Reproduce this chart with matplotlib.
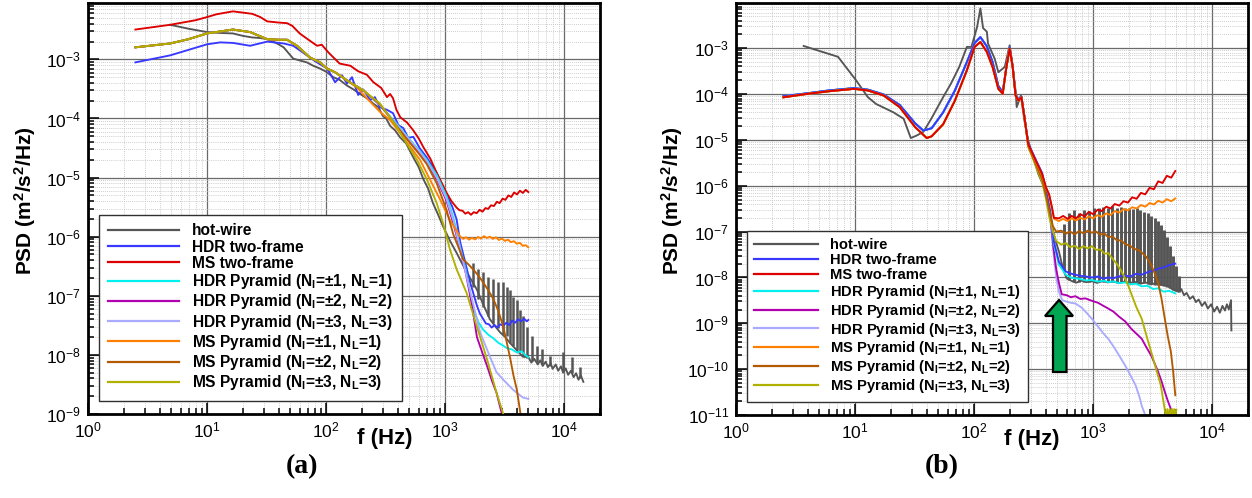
import numpy as np
import matplotlib
matplotlib.use("Agg")
import matplotlib.pyplot as plt
from matplotlib.patches import Polygon
from matplotlib.ticker import LogLocator, NullFormatter

plt.rcParams['font.family'] = ['Liberation Sans', 'DejaVu Sans']
plt.rcParams['mathtext.default'] = 'regular'

# ------------------------------------------------------------------ data (a)
A_HW_F = [4.9, 7, 10, 13, 16.5, 20, 24, 28, 32, 38, 44, 48, 53, 60, 69, 78, 89, 100, 115, 130,
          150, 170, 193, 220, 248, 275, 300, 320, 345, 380, 418, 470, 540, 600, 655, 720, 790, 870,
          960, 1100, 1250, 1380, 1520, 1700, 1850, 2100, 2380, 2650, 2900, 3200, 3500, 4000, 4500,
          5000, 5300, 5600, 6000, 6300, 6600, 7000, 7300, 7700, 8000, 8500, 8900, 9400, 9800,
          10300, 10800, 11400, 12000, 12600, 13200, 13800, 14500]
A_HW_P = [3.85e-3, 3.3e-3, 2.9e-3, 2.8e-3, 2.75e-3, 2.5e-3, 2.35e-3, 2.3e-3, 2.2e-3, 1.9e-3,
          1.6e-3, 1.3e-3, 1.03e-3, 9.6e-4, 8.9e-4, 7.8e-4, 7e-4, 6.2e-4, 5e-4, 4.5e-4,
          3.6e-4, 3.1e-4, 2.6e-4, 2.2e-4, 1.8e-4, 1.55e-4, 1.1e-4, 1.0e-4, 7.5e-5, 6.3e-5,
          4.8e-5, 3.8e-5, 2.2e-5, 1.5e-5, 9.5e-6, 6.5e-6, 3.7e-6, 2.4e-6, 1.5e-6, 8.5e-7,
          5.3e-7, 3.6e-7, 2.5e-7, 1.7e-7, 1.27e-7, 7e-8, 4e-8, 3e-8, 2.4e-8, 2e-8,
          1.6e-8, 1.2e-8, 9.3e-9,
          9.2e-9, 7.4e-9, 8.6e-9, 6.9e-9, 8.1e-9, 6.5e-9, 7.7e-9, 6.2e-9, 7.3e-9, 5.8e-9,
          6.9e-9, 5.4e-9, 6.4e-9, 5.0e-9, 5.9e-9, 4.6e-9, 5.4e-9, 4.2e-9, 4.9e-9, 3.8e-9,
          4.5e-9, 3.5e-9]
A_SPK_F = [1730, 1905, 2100, 2313, 2546, 2805, 3090, 3300, 3517, 3750, 4006, 4270, 4550, 4860,
           5355, 5890, 6460, 7620, 9860, 11600, 13600]
A_SPK_TOP = [3.6e-7, 2.8e-7, 2.5e-7, 2.1e-7, 1.9e-7, 1.7e-7, 1.7e-7, 1.4e-7, 1.27e-7, 9.7e-8,
             8.6e-8, 5.8e-8, 4.5e-8, 3e-8, 2.1e-8, 1.4e-8, 1.27e-8, 9.6e-9, 1.1e-8, 9.2e-9, 6.3e-9]
A_SPK_LO = [1.4e-7, 9e-8, 6.5e-8, 4.5e-8, 3.4e-8, 2.8e-8, 2.3e-8, 2.1e-8, 1.6e-8, 1.4e-8,
            1.2e-8, 1.1e-8, 9.5e-9, 8.8e-9, 7.8e-9, 7.5e-9, 7e-9, 6.5e-9, 5.6e-9, 5e-9, 4e-9]

A_RED_F = [2.5, 4.9, 8, 10, 12, 16.5, 24, 28, 32, 40, 47, 52, 60, 70, 84, 92, 105, 130, 160, 186,
           220, 250, 290, 325, 345, 365, 390, 420, 480, 540, 600, 655, 750, 850, 940, 1030, 1130,
           1250, 1320, 1400, 1480, 1560, 1650, 1740, 1840, 1950, 2060, 2180, 2300, 2430, 2570,
           2720, 2870, 3040, 3210, 3400, 3590, 3800, 4020, 4250, 4500, 4750, 5000]
A_RED_P = [3.2e-3, 3.85e-3, 4.6e-3, 5.2e-3, 5.8e-3, 6.5e-3, 5.9e-3, 5.2e-3, 4.4e-3, 4.2e-3,
           4.1e-3, 3.7e-3, 2.75e-3, 2.2e-3, 1.7e-3, 1.77e-3, 1.3e-3, 8.5e-4, 7.8e-4, 6.3e-4,
           5.5e-4, 4.1e-4, 3.3e-4, 2.3e-4, 2.6e-4, 2.2e-4, 1.4e-4, 1.05e-4, 8.5e-5, 6.3e-5,
           4.6e-5, 3.3e-5, 2.1e-5, 1.2e-5, 8e-6, 5.5e-6, 4e-6,
           3.1e-6, 2.8e-6, 2.75e-6, 2.45e-6, 2.6e-6, 2.35e-6, 2.6e-6, 2.5e-6, 2.85e-6, 2.65e-6,
           3.05e-6, 2.95e-6, 3.4e-6, 3.3e-6, 3.9e-6, 3.7e-6, 4.4e-6, 4.2e-6, 5e-6, 4.7e-6,
           5.6e-6, 5.2e-6, 6e-6, 5.5e-6, 6.2e-6, 5.7e-6]

A_BLUE_F = [2.5, 4.9, 10, 12.9, 16.5, 23, 32, 44, 53, 69, 81, 102, 108, 119, 136, 150, 165, 186,
            205, 235, 257, 283, 325, 365, 405, 445, 490, 540, 615, 700, 850, 1030, 1150, 1250,
            1340, 1480, 1620, 1750, 1850, 1960, 2080, 2200, 2330, 2460, 2600, 2750, 2900, 3080,
            3260, 3450, 3650, 3870, 4100, 4350, 4600, 4850, 5000]
A_BLUE_P = [8.9e-4, 1.17e-3, 1.8e-3, 1.94e-3, 1.9e-3, 1.7e-3, 2e-3, 1.86e-3, 1.7e-3, 1.17e-3,
            9.3e-4, 7e-4, 5.8e-4, 4.1e-4, 5.4e-4, 3.9e-4, 5e-4, 2.5e-4, 3.1e-4, 2.05e-4,
            2.3e-4, 1.55e-4, 1.4e-4, 1.23e-4, 7.7e-5, 6.9e-5, 4.7e-5, 4.9e-5, 3.1e-5, 2.2e-5,
            1.2e-5, 5.1e-6, 3.2e-6, 1.95e-6, 8e-7, 3.6e-7, 1.7e-7, 1e-7, 6.8e-8, 5e-8,
            4.1e-8, 3.4e-8, 3.3e-8, 2.9e-8, 3.2e-8, 2.9e-8, 3.3e-8, 3.1e-8, 3.5e-8, 3.2e-8,
            3.8e-8, 3.5e-8, 4e-8, 3.7e-8, 4.1e-8, 3.7e-8, 3.9e-8]

# pyramid curves share the same low-frequency part in (a)
A_PYR_LO_F = [2.5, 4.9, 7, 10, 16.5, 23, 32, 40, 47, 57, 73, 89, 102, 120, 150]
A_PYR_LO_P = [1.6e-3, 1.86e-3, 2.2e-3, 2.75e-3, 3.2e-3, 2.9e-3, 2.2e-3, 2.15e-3, 2.15e-3, 1.7e-3,
              1.08e-3, 8.9e-4, 7e-4, 6e-4, 4.4e-4]
A_CYN_F = [205, 283, 394, 500, 615, 700, 850, 1030, 1180, 1340, 1500, 1720, 1900, 2080, 2300,
           2550, 2800, 3050, 3300, 3600, 4000, 4400, 4700, 5000]
A_CYN_P = [3e-4, 1.7e-4, 8e-5, 4.5e-5, 2.8e-5, 2e-5, 1.1e-5, 4.8e-6, 2e-6, 6.5e-7, 2.6e-7, 6e-8,
           3.6e-8, 2.7e-8, 2.2e-8, 1.9e-8, 1.6e-8, 1.45e-8, 1.3e-8, 1.25e-8, 1.1e-8, 1.15e-8,
           1.0e-8, 9.1e-9]
A_PUR_F = [205, 283, 394, 500, 615, 700, 850, 1030, 1180, 1340, 1500, 1680, 1850, 2050, 2250,
           2480, 2700, 3000, 3200]
A_PUR_P = [3e-4, 1.7e-4, 7.5e-5, 4.2e-5, 2.6e-5, 1.8e-5, 9.5e-6, 4e-6, 1.6e-6, 6e-7, 2.3e-7,
           7e-8, 2e-8, 1.1e-8, 6.5e-9, 3.6e-9, 2.3e-9, 1e-9, 6e-10]
A_LAV_F = [205, 283, 394, 500, 615, 700, 850, 1030, 1180, 1340, 1500, 1700, 1970, 2380, 2700,
           3080, 3400, 3700, 4100, 4500, 5000]
A_LAV_P = [3e-4, 1.7e-4, 7.8e-5, 4.4e-5, 2.7e-5, 1.9e-5, 1e-5, 4.3e-6, 1.8e-6, 6.2e-7, 2.3e-7,
           8e-8, 2.4e-8, 9.3e-9, 5.1e-9, 3.8e-9, 3.1e-9, 2.6e-9, 2.2e-9, 1.9e-9, 1.8e-9]
A_ORG_F = [183, 220, 283, 345, 420, 510, 615, 750, 910, 1100, 1340, 1420, 1500, 1590, 1680, 1780,
           1890, 2000, 2120, 2250, 2380, 2520, 2670, 2830, 3000, 3180, 3370, 3570, 3780, 4000,
           4240, 4490, 4750, 5000]
A_ORG_P = [3.3e-4, 2.2e-4, 1.3e-4, 9.4e-5, 5.6e-5, 3.3e-5, 2e-5, 9.1e-6, 4.2e-6, 1.9e-6,
           1.0e-6, 9.2e-7, 9.8e-7, 8.9e-7, 9.6e-7, 9.0e-7, 9.9e-7, 9.3e-7, 1.02e-6, 9.5e-7,
           1.0e-6, 9.2e-7, 9.8e-7, 8.8e-7, 9.3e-7, 8.5e-7, 8.9e-7, 8.1e-7, 8.4e-7, 7.6e-7,
           7.9e-7, 7.0e-7, 7.2e-7, 6.6e-7]
A_BRN_F = [205, 283, 394, 500, 615, 700, 850, 1030, 1170, 1300, 1420, 1570, 1720, 1900, 2080,
           2300, 2550, 2800, 3080, 3300, 3500, 3750, 4000, 4300, 4500]
A_BRN_P = [3e-4, 1.75e-4, 7.3e-5, 4e-5, 2.4e-5, 1.7e-5, 8e-6, 2.8e-6, 1.1e-6, 6.5e-7, 4.1e-7,
           3.4e-7, 2.8e-7, 2.2e-7, 1.7e-7, 1.25e-7, 8.7e-8, 5.5e-8, 3e-8, 1.6e-8, 9.3e-9, 4.5e-9,
           2.6e-9, 1e-9, 6e-10]
A_OLV_F = [205, 283, 394, 475, 580, 706, 850, 960, 1100, 1250, 1520, 1850, 2250, 2700, 3080, 3300]
A_OLV_P = [3e-4, 1.8e-4, 7.1e-5, 3.8e-5, 2e-5, 9.1e-6, 3.7e-6, 1.7e-6, 6e-7, 2.8e-7, 1.1e-7,
           3e-8, 8.4e-9, 2.3e-9, 1e-9, 6e-10]

# ------------------------------------------------------------------ data (b)
B_HW_F = [3.7, 7.2, 10.2, 12.8, 15, 21, 25.6, 29.4, 33, 37.5, 43.7, 55, 64, 75, 87, 95, 106, 113,
          119, 128, 131, 149, 160, 181, 199, 211, 223, 228, 247, 265, 285, 307, 347, 389, 436, 470,
          516, 560, 600, 660, 720, 800, 880, 980, 1080, 1200, 1330, 1480, 1640, 1820, 2020, 2240,
          2490, 2760, 3060, 3400, 3770, 4190, 4650, 5200, 5500, 5800, 6100, 6500, 6900, 7300,
          7700, 8200, 8700, 9200, 9800, 10400, 11000, 11600, 12200, 12800, 13300, 13800, 14400,
          14500]
B_HW_P = [1.12e-3, 6.5e-4, 2e-4, 8.6e-5, 6.1e-5, 4e-5, 2.9e-5, 1.1e-5, 1.25e-5, 1.5e-5,
          2.9e-5, 8.6e-5, 1.7e-4, 3.9e-4, 1.07e-3, 1.07e-3, 2.9e-3, 7.4e-3, 2.75e-3, 2.3e-3,
          1.26e-3, 5.9e-4, 3e-4, 3.9e-4, 1.16e-3, 3.9e-4, 1.2e-4, 5.2e-5, 9.3e-5, 2.6e-5,
          9.6e-6, 4.9e-6, 1.8e-6, 9.1e-7, 2.3e-7, 8e-8, 3.7e-8, 1.5e-8, 9.5e-9, 8.4e-9,
          7.7e-9, 8.5e-9, 7.9e-9, 8.3e-9, 7.6e-9, 8.4e-9, 7.8e-9, 8.2e-9, 7.5e-9, 8.1e-9,
          7.6e-9, 8e-9, 7.3e-9, 7.8e-9, 7.1e-9, 7.5e-9, 6.8e-9, 6.6e-9, 5.5e-9, 4.9e-9,
          5.6e-9, 4.1e-9, 4.6e-9, 3.4e-9, 3.9e-9, 2.9e-9, 3.3e-9, 2.4e-9, 2.9e-9, 2.1e-9,
          2.6e-9, 1.8e-9, 2.3e-9, 1.7e-9, 2.4e-9, 1.9e-9, 2.6e-9, 2.0e-9, 3.2e-9, 7e-10]
B_SPK_F = [566, 624, 687, 756, 832, 916, 1009, 1110, 1222, 1345, 1450, 1580, 1700, 1850, 2000,
           2160, 2320, 2490, 2680, 2880, 3070, 3280, 3500, 3740, 3960, 4200, 4450, 4700, 4990, 5250]
B_SPK_TOP = [1.5e-7, 2.5e-7, 3e-7, 2.6e-7, 3e-7, 2.8e-7, 3.3e-7, 3.2e-7, 3.4e-7, 3.3e-7,
             3.6e-7, 3.3e-7, 3.5e-7, 3.2e-7, 3.3e-7, 3.1e-7, 3.2e-7, 2.9e-7, 2.7e-7, 2.5e-7,
             2.2e-7, 2e-7, 1.7e-7, 1.4e-7, 1.1e-7, 7.5e-8, 4.8e-8, 3e-8, 1.8e-8, 1.1e-8]
B_SPK_LO = [1.4e-8, 9e-9, 8e-9, 7.8e-9, 8e-9, 8e-9, 8e-9, 7.8e-9, 7.8e-9, 8e-9,
            8e-9, 7.8e-9, 7.8e-9, 7.8e-9, 7.6e-9, 7.6e-9, 7.5e-9, 7.5e-9, 7.4e-9, 7.2e-9,
            7.2e-9, 7e-9, 7e-9, 6.8e-9, 6.6e-9, 6.2e-9, 5.8e-9, 5.4e-9, 5e-9, 4.8e-9]

B_RED_F = [2.5, 4.07, 6, 9.8, 12.8, 17.4, 23.7, 32, 40, 44, 55, 69, 87, 101, 113, 128, 143, 160,
           174, 187, 199, 211, 223, 236, 250, 265, 285, 320, 373, 403, 427, 452, 468, 516,
           560, 610, 660, 720, 780, 850, 920, 1000, 1090, 1180, 1290, 1400, 1520, 1660, 1800,
           1960, 2130, 2320, 2520, 2740, 2980, 3240, 3520, 3830, 4160, 4530, 4900]
B_RED_P = [8.5e-5, 1.02e-4, 1.15e-4, 1.3e-4, 1.2e-4, 9.3e-5, 5.2e-5, 1.9e-5, 1.1e-5, 1.2e-5,
           2.2e-5, 7.2e-5, 3.3e-4, 1.07e-3, 1.37e-3, 8.3e-4, 3.9e-4, 1.3e-4, 1.02e-4, 3.9e-4,
           9.8e-4, 3.9e-4, 9.3e-5, 7.2e-5, 8.5e-5, 3.1e-5, 8.1e-6, 4.2e-6, 1.8e-6, 9.1e-7,
           6.5e-7, 3.3e-7, 2e-7, 1.95e-7,
           2.2e-7, 1.9e-7, 2.2e-7, 1.95e-7, 2.4e-7, 2.15e-7, 2.7e-7, 2.4e-7, 3e-7, 2.8e-7,
           3.5e-7, 3.2e-7, 4e-7, 3.7e-7, 4.6e-7, 4.3e-7, 5.6e-7, 5.2e-7, 7e-7, 6.5e-7,
           9e-7, 8.4e-7, 1.25e-6, 1.15e-6, 1.65e-6, 1.5e-6, 2.1e-6]
B_BLUE_F = [2.5, 4.07, 6, 9.8, 12.8, 17.4, 23.7, 32, 37.5, 44, 55, 69, 87, 101, 113, 128, 143,
            160, 174, 187, 199, 211, 223, 236, 250, 265, 285, 320, 373, 403, 440, 467, 516, 590,
            660, 760, 870, 975, 1100, 1220, 1340, 1480, 1650, 1860, 2050, 2300, 2560, 2850, 3200,
            3520, 3900, 4350, 4900]
B_BLUE_P = [9e-5, 1.05e-4, 1.2e-4, 1.35e-4, 1.25e-4, 9.8e-5, 5.8e-5, 2.3e-5, 1.6e-5, 1.8e-5,
            4e-5, 1.2e-4, 5e-4, 1.3e-3, 1.75e-3, 1.1e-3, 5e-4, 1.5e-4, 1.1e-4, 4e-4,
            1.05e-3, 4e-4, 1e-4, 7.5e-5, 8.8e-5, 3.2e-5, 8.5e-6, 4.4e-6, 1.9e-6, 8e-7,
            2.5e-7, 6.2e-8, 2.2e-8, 1.35e-8, 1.2e-8, 1.1e-8, 1.05e-8, 1e-8, 1.05e-8, 9.4e-9,
            1e-8, 9.6e-9, 1.06e-8, 1.1e-8, 1.05e-8, 1.2e-8, 1.15e-8, 1.3e-8, 1.4e-8, 1.55e-8,
            1.65e-8, 1.85e-8, 2e-8]

# (b) pyramid curves: low part identical to the two-frame curves, continuation below
B_CYN_F = [285, 320, 373, 403, 440, 467, 516, 590, 660, 760, 870, 975, 1100, 1220, 1340, 1480,
           1650, 1860, 2050, 2300, 2560, 2850, 3200, 3520, 3900, 4350, 4900]
B_CYN_P = [8e-6, 4e-6, 1.7e-6, 7.5e-7, 2.2e-7, 5.5e-8, 1.9e-8, 1.15e-8, 9.8e-9, 9.4e-9, 8.6e-9,
           8.8e-9, 8.1e-9, 8.5e-9, 7.9e-9, 8.2e-9, 7.5e-9, 7.8e-9, 7.1e-9, 7.3e-9, 6.4e-9, 6.6e-9,
           5.6e-9, 5.8e-9, 4.9e-9, 5.1e-9, 4.5e-9]
B_PUR_F = [285, 320, 373, 403, 440, 467, 490, 516, 545, 600, 650, 710, 780, 860, 975, 1100, 1220,
           1340, 1480, 1650, 1860, 2100, 2300, 2560, 2800, 3070, 3300, 3520, 3750, 4000, 4250,
           4500, 4800]
B_PUR_P = [7.8e-6, 3.8e-6, 1.5e-6, 6.5e-7, 1.8e-7, 4e-8, 1.5e-8, 7.6e-9, 4.3e-9, 4.1e-9, 3.7e-9,
           3.9e-9, 3.4e-9, 3.5e-9, 3.1e-9, 2.8e-9, 2.4e-9, 2.1e-9, 1.8e-9, 1.4e-9, 1.1e-9, 7.5e-10,
           6e-10, 4.6e-10, 3e-10, 2e-10, 1.3e-10, 8.7e-11, 5.5e-11, 3.2e-11, 2e-11, 1.35e-11, 9e-12]
B_LAV_F = [285, 320, 373, 403, 440, 467, 490, 516, 550, 590, 650, 710, 800, 880, 975, 1100, 1220,
           1340, 1500, 1650, 1860, 2050, 2270, 2450, 2560, 2700, 2800]
B_LAV_P = [7.6e-6, 3.6e-6, 1.4e-6, 6e-7, 1.5e-7, 3e-8, 1e-8, 4.9e-9, 3.2e-9, 3e-9, 2.8e-9, 2.7e-9,
           2.2e-9, 1.7e-9, 1.26e-9, 8.5e-10, 6e-10, 4.6e-10, 3e-10, 2e-10, 1.2e-10, 7.5e-11,
           4.5e-11, 2.5e-11, 1.6e-11, 1.1e-11, 8e-12]
B_ORG_F = [285, 320, 373, 403, 427, 452, 470, 516, 560, 610, 660, 720, 780, 850, 920, 1000, 1090,
           1180, 1290, 1400, 1520, 1660, 1800, 1960, 2130, 2320, 2520, 2740, 2980, 3240, 3520,
           3830, 4160, 4530, 4900]
B_ORG_P = [8e-6, 4e-6, 1.7e-6, 8.8e-7, 6.3e-7, 3.2e-7, 1.9e-7, 1.7e-7,
           1.9e-7, 1.7e-7, 1.95e-7, 1.75e-7, 2e-7, 1.85e-7, 2.15e-7, 1.95e-7, 2.3e-7, 2.1e-7,
           2.5e-7, 2.3e-7, 2.8e-7, 2.6e-7, 3.1e-7, 2.9e-7, 3.4e-7, 3.2e-7, 3.8e-7, 3.5e-7,
           4.2e-7, 3.9e-7, 4.7e-7, 4.3e-7, 5.1e-7, 4.6e-7, 5.3e-7]
B_BRN_F = [285, 320, 373, 403, 430, 460, 490, 540, 590, 640, 700, 760, 830, 900, 975, 1060, 1150,
           1250, 1340, 1450, 1580, 1720, 1860, 2030, 2200, 2400, 2560, 2800, 3070, 3300, 3520,
           3750, 4000, 4250, 4500, 4700, 4900]
B_BRN_P = [7.5e-6, 3.6e-6, 1.4e-6, 6e-7, 2.8e-7, 1.3e-7, 1e-7, 1.05e-7, 9e-8, 1.0e-7, 8.8e-8,
           1.02e-7, 9.2e-8, 1.05e-7, 9.5e-8, 1e-7, 8.6e-8, 9e-8, 7.6e-8, 7.8e-8, 6.5e-8, 6.4e-8,
           5.3e-8, 5e-8, 4.2e-8, 4e-8, 3.5e-8, 2.8e-8, 1.9e-8, 1.2e-8, 7.6e-9, 3.5e-9, 1.26e-9,
           5e-10, 2.4e-10, 9e-11, 2.7e-11]
B_OLV_F = [285, 320, 373, 403, 430, 460, 490, 540, 590, 640, 700, 760, 830, 900, 975, 1060, 1150,
           1250, 1340, 1450, 1600, 1720, 1860, 1980, 2100, 2300, 2560, 2800, 3070, 3350, 3700,
           4000, 4100, 4200, 4300, 4400, 4500, 4600, 4700, 4800, 4900, 5000]
B_OLV_P = [7e-6, 3.3e-6, 1.2e-6, 5e-7, 2e-7, 1e-7, 6.2e-8, 5.2e-8, 5.6e-8, 4.6e-8, 4.9e-8,
           4.2e-8, 4.8e-8, 4.3e-8, 4.8e-8, 4e-8, 4.1e-8, 3.3e-8, 3.4e-8, 2.6e-8, 1.9e-8, 1.4e-8,
           9.5e-9, 6.5e-9, 4.3e-9, 2.3e-9, 1.26e-9, 5.5e-10, 2.4e-10, 1.1e-10, 4.5e-11, 1.3e-11,
           8e-12, 1.35e-11, 8e-12, 1.35e-11, 8e-12, 1.35e-11, 8e-12, 1.35e-11, 8e-12, 1.3e-11]

LABELS = ['hot-wire', 'HDR two-frame', 'MS two-frame',
          'HDR Pyramid (N$_I$=\u00b11, N$_L$=1)', 'HDR Pyramid (N$_I$=\u00b12, N$_L$=2)',
          'HDR Pyramid (N$_I$=\u00b13, N$_L$=3)', 'MS Pyramid (N$_I$=\u00b11, N$_L$=1)',
          'MS Pyramid (N$_I$=\u00b12, N$_L$=2)', 'MS Pyramid (N$_I$=\u00b13, N$_L$=3)']
COLORS = ['#555555', '#3838ff', '#dd0000', '#00f0f0', '#b000b0', '#aaaaff', '#ff8000',
          '#b35a00', '#b0b000']

W, H = 1252, 498
fig = plt.figure(figsize=(W / 100, H / 100), dpi=100)
axA = fig.add_axes([88 / W, (H - 414) / H, 512 / W, 411 / H])
axB = fig.add_axes([736 / W, (H - 415) / H, 512 / W, 412 / H])


def style(ax, ymin, ymax):
    ax.set_xscale('log')
    ax.set_yscale('log')
    ax.set_xlim(1, 2e4)
    ax.set_ylim(ymin, ymax)
    for axis in (ax.xaxis, ax.yaxis):
        axis.set_major_locator(LogLocator(base=10, numticks=30))
        axis.set_minor_locator(LogLocator(base=10, subs=np.arange(2, 10), numticks=30))
        axis.set_minor_formatter(NullFormatter())
    ax.grid(True, which='major', color='#6a6a6a', lw=0.9, ls='-')
    ax.grid(True, which='minor', color='#bdbdbd', lw=0.6, ls=(0, (1, 1.5)))
    ax.set_axisbelow(True)
    ax.tick_params(which='both', direction='in', top=False, right=False, labelsize=12.5,
                   width=1.1, pad=5)
    ax.tick_params(which='major', length=8)
    ax.tick_params(which='minor', length=4)
    for s in ax.spines.values():
        s.set_linewidth(2)
    ax.set_xlabel('f (Hz)', fontsize=16, fontweight='bold')
    ax.set_ylabel('PSD (m$^2$/s$^2$/Hz)', fontsize=15, fontweight='bold')


style(axA, 1e-9, 9e-3)
style(axB, 1e-11, 9.7e-3)
LW = 1.35

# ---- panel (a)
h = []
h.append(axA.plot(A_HW_F, A_HW_P, color=COLORS[0], lw=LW, zorder=2.0)[0])
axA.vlines(A_SPK_F, A_SPK_LO, A_SPK_TOP, color=COLORS[0], lw=1.8, zorder=2.0)
h.append(axA.plot(A_BLUE_F, A_BLUE_P, color=COLORS[1], lw=LW, zorder=2.1)[0])
h.append(axA.plot(A_RED_F, A_RED_P, color=COLORS[2], lw=LW, zorder=2.2)[0])
pyrA = [(A_CYN_F, A_CYN_P), (A_PUR_F, A_PUR_P), (A_LAV_F, A_LAV_P),
        (A_ORG_F, A_ORG_P), (A_BRN_F, A_BRN_P), (A_OLV_F, A_OLV_P)]
for k, (ff, pp) in enumerate(pyrA):
    h.append(axA.plot(A_PYR_LO_F + ff, A_PYR_LO_P + pp, color=COLORS[3 + k], lw=LW,
                      zorder=2.3 + 0.05 * k)[0])

# ---- panel (b)
hb = []
hb.append(axB.plot(B_HW_F, B_HW_P, color=COLORS[0], lw=LW, zorder=2.0)[0])
axB.vlines(B_SPK_F, B_SPK_LO, B_SPK_TOP, color=COLORS[0], lw=2.1, zorder=2.0)
hb.append(axB.plot(B_BLUE_F, B_BLUE_P, color=COLORS[1], lw=LW, zorder=2.2)[0])
hb.append(axB.plot(B_RED_F, B_RED_P, color=COLORS[2], lw=LW, zorder=2.4)[0])
NLO = 26  # low-frequency points shared with the two-frame curves
for k, (ff, pp) in enumerate([(B_CYN_F, B_CYN_P), (B_PUR_F, B_PUR_P), (B_LAV_F, B_LAV_P)]):
    hb.append(axB.plot(B_BLUE_F[:NLO] + ff, B_BLUE_P[:NLO] + pp, color=COLORS[3 + k], lw=LW,
                       zorder=2.1 - 0.01 * k)[0])
for k, (ff, pp) in enumerate([(B_ORG_F, B_ORG_P), (B_BRN_F, B_BRN_P), (B_OLV_F, B_OLV_P)]):
    hb.append(axB.plot(B_RED_F[:NLO] + ff, B_RED_P[:NLO] + pp, color=COLORS[6 + k], lw=LW,
                       zorder=2.35 - 0.01 * k)[0])

# ---- legends
legA = axA.legend(h, LABELS, loc='lower left', bbox_to_anchor=(0.0215, 0.032),
                  prop={'weight': 'bold', 'size': 11.2}, frameon=True, fancybox=False,
                  edgecolor='#303030', framealpha=1, handlelength=4.6, handletextpad=0.85,
                  labelspacing=0.08, borderpad=0.55, borderaxespad=0)
legA.get_frame().set_linewidth(1.0)
legB = axB.legend(hb, LABELS, loc='lower left', bbox_to_anchor=(0.0215, 0.032),
                  prop={'weight': 'bold', 'size': 10.6}, frameon=True, fancybox=False,
                  edgecolor='#303030', framealpha=1, handlelength=4.4, handletextpad=0.8,
                  labelspacing=0.06, borderpad=0.45, borderaxespad=0)
legB.get_frame().set_linewidth(1.0)
for lg in (legA, legB):
    for ln in lg.get_lines():
        ln.set_linewidth(1.6)

# ---- label placement
axA.xaxis.set_label_coords(0.58, -0.035)
axB.xaxis.set_label_coords(0.578, -0.035)
axA.yaxis.set_label_coords(-0.098, 0.52)
axB.yaxis.set_label_coords(-0.10, 0.52)

fig.text(302 / W, 1 - 467 / H, '(a)', ha='center', va='center', fontsize=20,
         fontweight='bold', family='Liberation Serif')
fig.text(942 / W, 1 - 467 / H, '(b)', ha='center', va='center', fontsize=20,
         fontweight='bold', family='Liberation Serif')

# green arrow in (b)
pts = [(1059, 300), (1073, 316), (1066.5, 316), (1066.5, 372), (1053, 372), (1053, 316),
       (1045, 316)]
arrow = Polygon([(x / W, 1 - y / H) for x, y in pts], closed=True, transform=fig.transFigure,
                facecolor='#00a651', edgecolor='black', lw=1.6, zorder=10)
fig.add_artist(arrow)

fig.savefig('out.png', dpi=100)
